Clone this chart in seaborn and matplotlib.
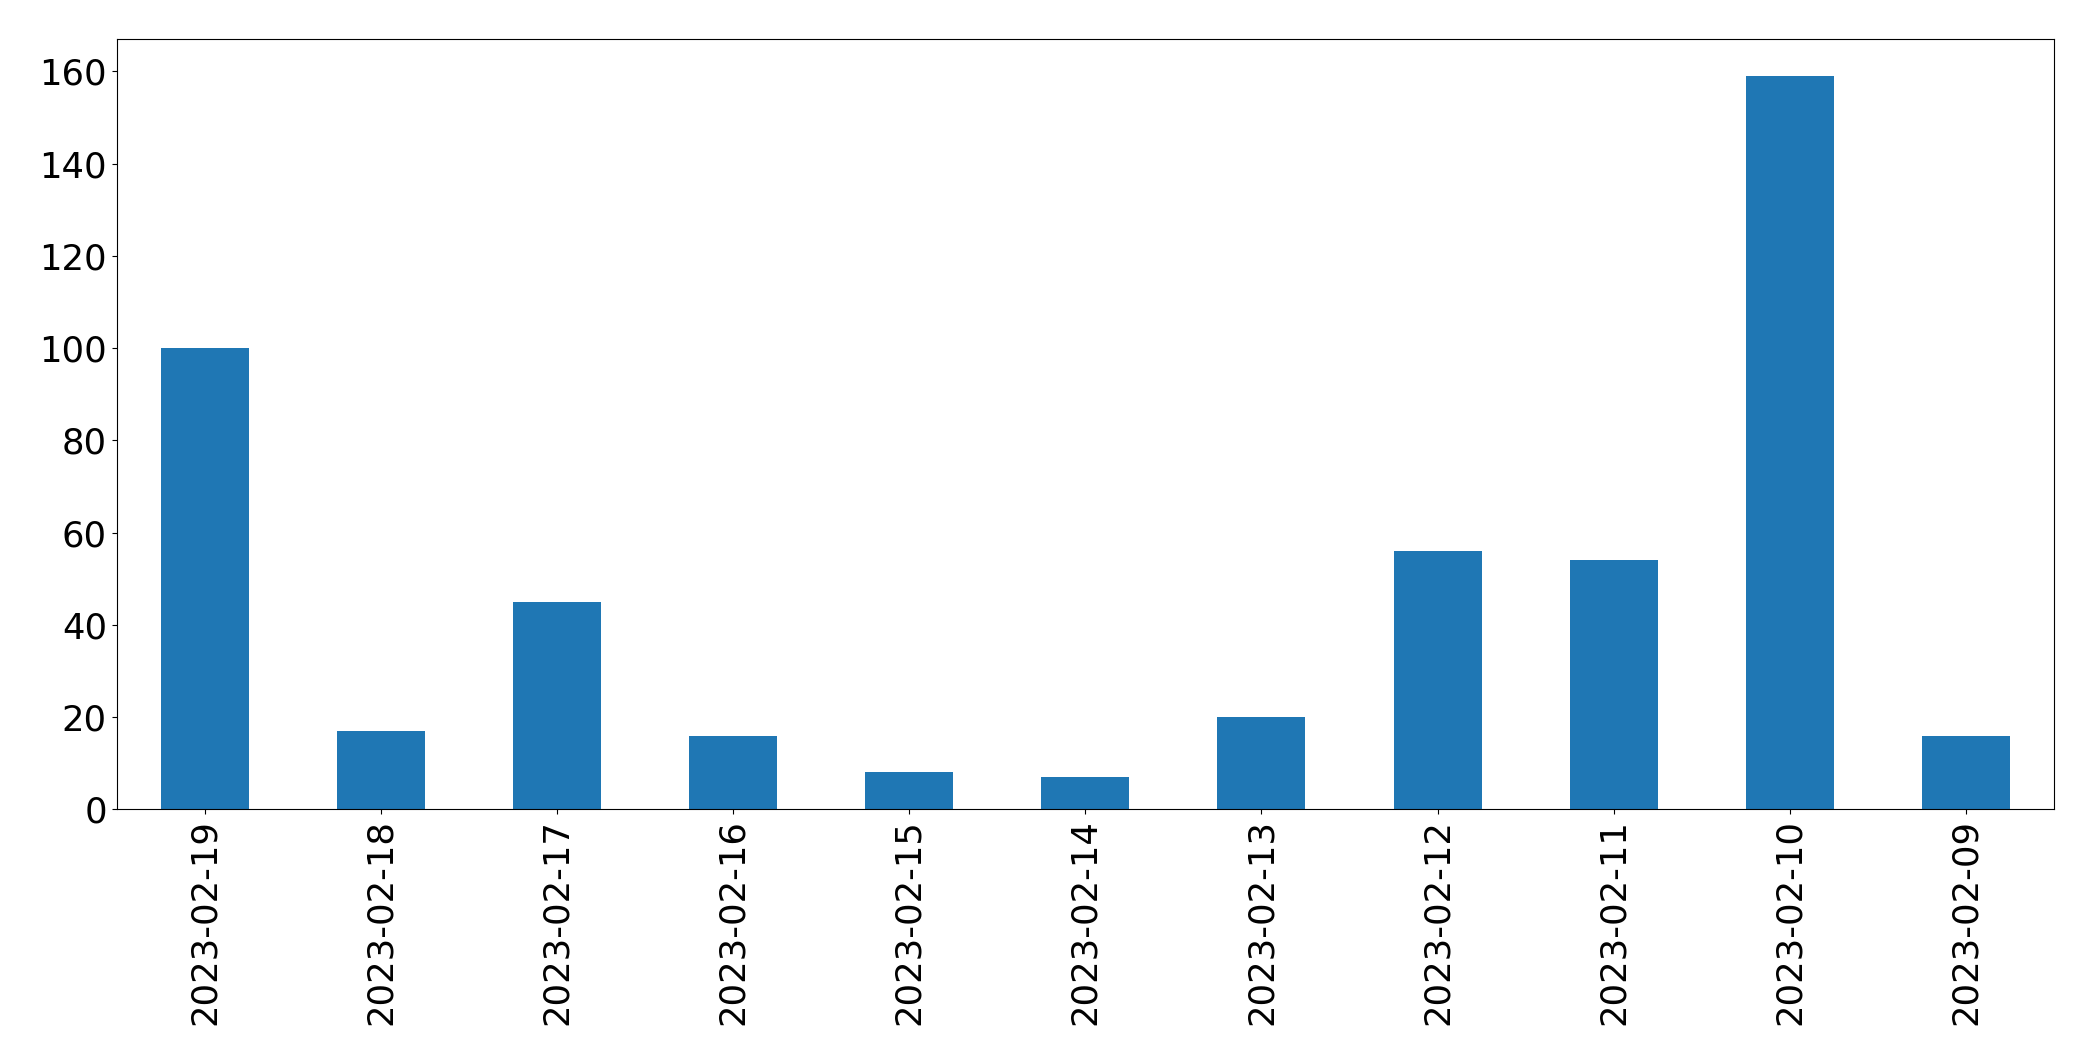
import matplotlib
matplotlib.use('Agg')
import matplotlib.pyplot as plt
import seaborn as sns
import pandas as pd

dates = ['2023-02-19', '2023-02-18', '2023-02-17', '2023-02-16', '2023-02-15',
         '2023-02-14', '2023-02-13', '2023-02-12', '2023-02-11', '2023-02-10',
         '2023-02-09']
counts = [100, 17, 45, 16, 8, 7, 20, 56, 54, 159, 16]

df = pd.DataFrame({'date': dates, 'count': counts})

fig = plt.figure(figsize=(20.93, 10.61), dpi=100)
ax = fig.add_axes([116.7 / 2093, 1 - 809.3 / 1061, (2054 - 116.7) / 2093, (809.3 - 39.3) / 1061])

sns.barplot(data=df, x='date', y='count', ax=ax, color='#1f77b4', saturation=1,
            width=0.5, linewidth=0)

ax.set_xlim(-0.5, len(dates) - 0.5)
ax.set_ylim(0, max(counts) * 1.05)
ax.set_xlabel('')
ax.set_ylabel('')
ax.tick_params(axis='x', labelrotation=90, labelsize=25.5)
ax.tick_params(axis='y', labelsize=25.5)

plt.savefig('out.png', dpi=100)
